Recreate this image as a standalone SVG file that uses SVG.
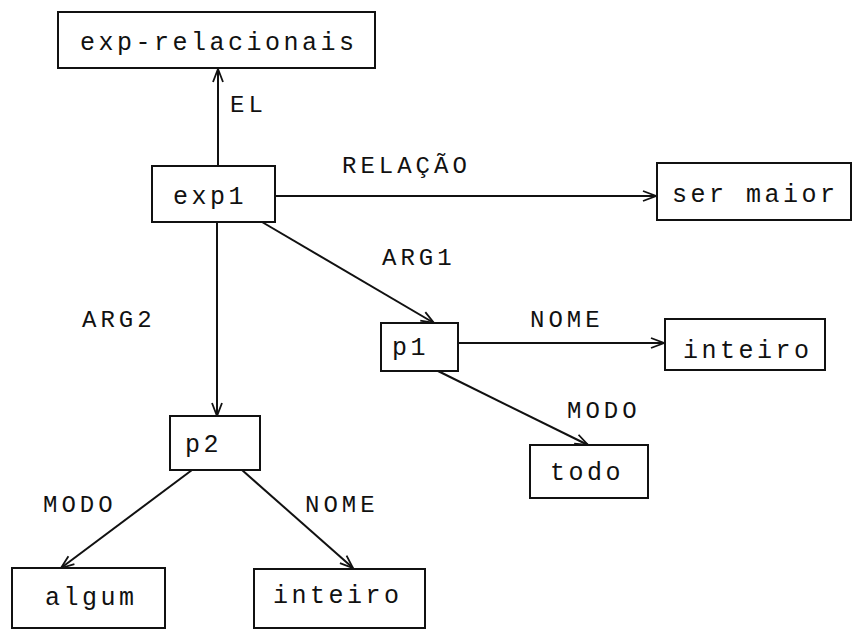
<svg xmlns="http://www.w3.org/2000/svg" width="853" height="629" viewBox="0 0 853 629">
  <style>
    .box { fill: #fff; stroke: #111; stroke-width: 2; }
    .node { font-family: "Liberation Mono", "DejaVu Sans Mono", monospace; font-size: 25px; letter-spacing: 3.5px; fill: #111; }
    .lbl { font-family: "Liberation Mono", "DejaVu Sans Mono", monospace; font-size: 24px; letter-spacing: 4px; fill: #111; }
    .edge { stroke: #111; stroke-width: 2; fill: none; marker-end: url(#arrow); }
  </style>
  <defs>
    <marker id="arrow" markerUnits="userSpaceOnUse" markerWidth="16" markerHeight="14" viewBox="0 0 16 14" refX="14" refY="7" orient="auto">
      <path d="M1,2 L14,7 L1,12" fill="none" stroke="#111" stroke-width="1.8"/>
    </marker>
  </defs>
  <rect width="853" height="629" fill="#fff"/>

  <g id="connectors">
    <line class="edge" x1="218" y1="166" x2="218" y2="69"/>
    <line class="edge" x1="275" y1="196" x2="656" y2="196"/>
    <line class="edge" x1="262" y1="222" x2="434" y2="323"/>
    <line class="edge" x1="217" y1="223" x2="217" y2="416"/>
    <line class="edge" x1="458" y1="343" x2="664" y2="343"/>
    <line class="edge" x1="438" y1="371" x2="588" y2="445"/>
    <line class="edge" x1="192" y1="470" x2="61" y2="568"/>
    <line class="edge" x1="242" y1="470" x2="353" y2="568"/>
    <text class="lbl" x="230" y="112">EL</text>
    <text class="lbl" x="342" y="173">RELAÇÃO</text>
    <text class="lbl" x="382" y="265">ARG1</text>
    <text class="lbl" x="82" y="327">ARG2</text>
    <text class="lbl" x="530" y="327">NOME</text>
    <text class="lbl" x="567" y="418">MODO</text>
    <text class="lbl" x="43" y="512">MODO</text>
    <text class="lbl" x="305" y="512">NOME</text>
  </g>

  <g id="exp-relacionais">
    <rect class="box" x="58" y="12" width="317" height="56"/>
    <text class="node" x="80" y="50">exp-relacionais</text>
  </g>
  <g id="exp1">
    <rect class="box" x="152" y="166" width="123" height="56"/>
    <text class="node" x="173" y="204">exp1</text>
  </g>
  <g id="ser-maior">
    <rect class="box" x="657" y="163" width="194" height="57"/>
    <text class="node" x="672" y="202">ser maior</text>
  </g>
  <g id="p1">
    <rect class="box" x="381" y="323" width="77" height="48"/>
    <text class="node" x="392" y="355">p1</text>
  </g>
  <g id="inteiro-1">
    <rect class="box" x="665" y="319" width="160" height="51"/>
    <text class="node" x="683" y="358">inteiro</text>
  </g>
  <g id="todo">
    <rect class="box" x="530" y="445" width="118" height="53"/>
    <text class="node" x="550" y="480">todo</text>
  </g>
  <g id="p2">
    <rect class="box" x="170" y="416" width="90" height="54"/>
    <text class="node" x="185" y="452">p2</text>
  </g>
  <g id="algum">
    <rect class="box" x="12" y="568" width="153" height="60"/>
    <text class="node" x="45" y="605">algum</text>
  </g>
  <g id="inteiro-2">
    <rect class="box" x="254" y="569" width="171" height="59"/>
    <text class="node" x="273" y="603">inteiro</text>
  </g>
</svg>
